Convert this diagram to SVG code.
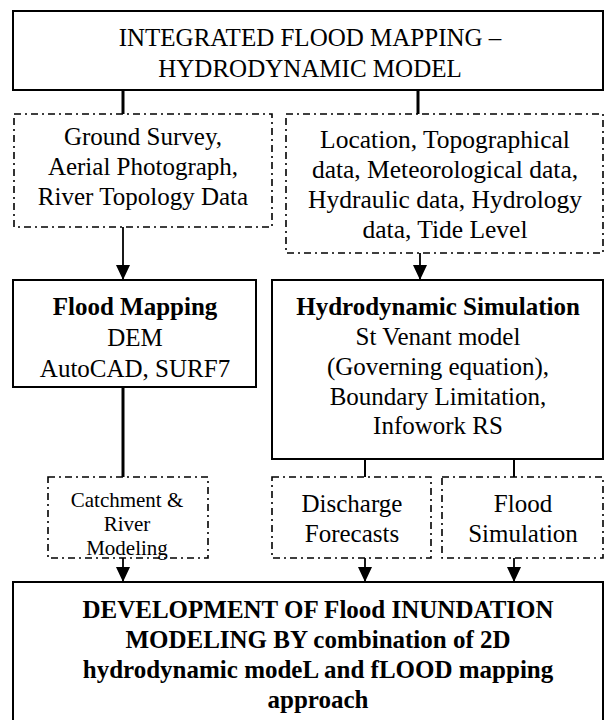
<svg xmlns="http://www.w3.org/2000/svg" width="606" height="720" viewBox="0 0 606 720">
<style>
.solid{fill:#fff;stroke:#000;stroke-width:2}
.dash{fill:#fff;stroke:#000;stroke-width:1.6;stroke-dasharray:7 4 2 4}
.t{font-family:"Liberation Serif","Times New Roman",serif;font-size:25px;fill:#000;text-anchor:middle}
.b{font-weight:bold}
.s{font-size:21px}
.w{font-size:25.5px}
.thick{stroke:#000;stroke-width:3;fill:none}
.thin{stroke:#000;stroke-width:2;fill:none}
.arrow{stroke:#000;stroke-width:1.8;fill:none;marker-end:url(#ah)}
</style>
<defs>
<marker id="ah" markerUnits="userSpaceOnUse" viewBox="0 0 15 14" refX="15" refY="7" markerWidth="15" markerHeight="14" orient="auto">
<path d="M0,0 L15,7 L0,14 z" fill="#000"/>
</marker>
</defs>
<rect width="606" height="720" fill="#fff"/>
<g id="connectors">
<line class="thick" x1="123" y1="90" x2="123" y2="114"/>
<line class="thick" x1="418" y1="90" x2="418" y2="114"/>
<line class="arrow" x1="123" y1="227" x2="123" y2="280"/>
<line class="arrow" x1="420" y1="253" x2="420" y2="280"/>
<line class="thick" x1="123" y1="387" x2="123" y2="477"/>
<line class="thin" x1="365" y1="459" x2="365" y2="477"/>
<line class="thin" x1="514" y1="459" x2="514" y2="477"/>
<line class="arrow" x1="123" y1="558" x2="123" y2="582"/>
<line class="arrow" x1="365" y1="558" x2="365" y2="582"/>
<line class="arrow" x1="514" y1="558" x2="514" y2="582"/>
</g>
<g id="top">
<rect class="solid" x="13" y="11" width="590" height="79"/>
<text class="t" x="310" y="46">INTEGRATED FLOOD MAPPING –</text>
<text class="t" x="310" y="77">HYDRODYNAMIC MODEL</text>
</g>
<g id="survey">
<rect class="dash" x="14" y="114" width="258" height="113"/>
<text class="t" x="143" y="145">Ground Survey,</text>
<text class="t" x="143" y="175">Aerial Photograph,</text>
<text class="t" x="143" y="205">River Topology Data</text>
</g>
<g id="data">
<rect class="dash" x="286" y="114" width="317" height="139"/>
<text class="t w" x="445" y="148">Location, Topographical</text>
<text class="t w" x="445" y="178">data, Meteorological data,</text>
<text class="t w" x="445" y="208">Hydraulic data, Hydrology</text>
<text class="t w" x="445" y="238">data, Tide Level</text>
</g>
<g id="floodmapping">
<rect class="solid" x="13" y="280" width="243" height="107"/>
<text class="t b" x="135" y="315">Flood Mapping</text>
<text class="t" x="135" y="346">DEM</text>
<text class="t" x="135" y="377">AutoCAD, SURF7</text>
</g>
<g id="hydro">
<rect class="solid" x="272" y="280" width="331" height="179"/>
<text class="t b" x="438" y="315">Hydrodynamic Simulation</text>
<text class="t" x="438" y="345">St Venant model</text>
<text class="t" x="438" y="375">(Governing equation),</text>
<text class="t" x="438" y="405">Boundary Limitation,</text>
<text class="t" x="438" y="434">Infowork RS</text>
</g>
<g id="catchment">
<rect class="dash" x="48" y="477" width="160" height="81"/>
<text class="t s" x="127" y="507">Catchment &amp;</text>
<text class="t s" x="127" y="531">River</text>
<text class="t s" x="127" y="555">Modeling</text>
</g>
<g id="discharge">
<rect class="dash" x="272" y="477" width="159" height="81"/>
<text class="t" x="352" y="512">Discharge</text>
<text class="t" x="352" y="542">Forecasts</text>
</g>
<g id="floodsim">
<rect class="dash" x="442" y="477" width="161" height="81"/>
<text class="t" x="523" y="512">Flood</text>
<text class="t" x="523" y="542">Simulation</text>
</g>
<g id="final">
<rect class="solid" x="13" y="582" width="590" height="145"/>
<text class="t b" x="318" y="618">DEVELOPMENT  OF Flood INUNDATION</text>
<text class="t b" x="318" y="648">MODELING  BY combination of 2D</text>
<text class="t b" x="318" y="678">hydrodynamic modeL and fLOOD mapping</text>
<text class="t b" x="318" y="708">approach</text>
</g>
</svg>
